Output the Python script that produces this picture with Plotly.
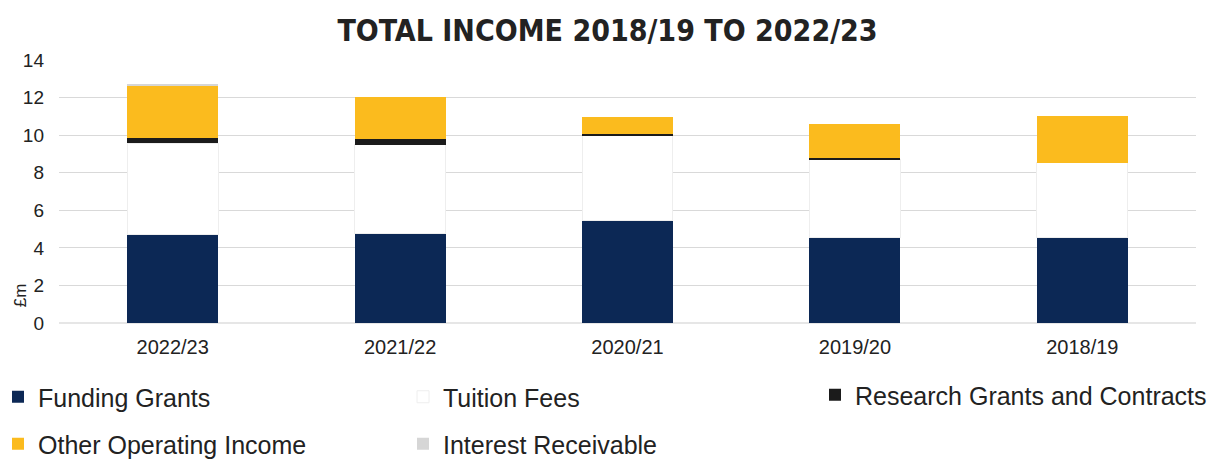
import plotly.graph_objects as go

# Income by year (£m), stacked
years = ["2022/23", "2021/22", "2020/21", "2019/20", "2018/19"]
funding_grants = [4.70, 4.76, 5.47, 4.54, 4.54]
tuition_fees = [4.86, 4.74, 4.50, 4.14, 3.98]
research_grants = [0.27, 0.27, 0.10, 0.08, 0.00]
other_operating = [2.76, 2.24, 0.88, 1.81, 2.51]
interest_receivable = [0.12, 0.00, 0.00, 0.00, 0.00]

y_ticks = [0, 2, 4, 6, 8, 10, 12, 14]

NAVY = "#0c2855"
YELLOW = "#fbbb1e"
BLACK = "#1b1b1b"
GREY = "#d6d6d6"
TEXT = "#222222"
FONT = "Liberation Sans, Arial, sans-serif"

fig = go.Figure()

fig.add_trace(go.Bar(name="Funding Grants", x=years, y=funding_grants,
                     marker=dict(color=NAVY, line=dict(width=0)), legend="legend"))
fig.add_trace(go.Bar(name="Tuition Fees", x=years, y=tuition_fees,
                     marker=dict(color="#ffffff", line=dict(color="#eeeeee", width=1)),
                     legend="legend"))
fig.add_trace(go.Bar(name="Research Grants and Contracts", x=years, y=research_grants,
                     marker=dict(color=BLACK, line=dict(width=0)), legend="legend3"))
fig.add_trace(go.Bar(name="Other Operating Income", x=years, y=other_operating,
                     marker=dict(color=YELLOW, line=dict(width=0)), legend="legend2"))
fig.add_trace(go.Bar(name="Interest Receivable", x=years, y=interest_receivable,
                     marker=dict(color=GREY, line=dict(width=0)), legend="legend2"))

legend_common = dict(
    orientation="h",
    xanchor="left",
    yanchor="middle",
    entrywidth=360,
    entrywidthmode="pixels",
    font=dict(family=FONT, size=25, color=TEXT),
    bgcolor="rgba(0,0,0,0)",
    itemclick=False,
    itemdoubleclick=False,
    traceorder="normal",
)

# pixel -> paper helpers for the legend rows
PLOT_L, PLOT_W = 59, 1137
PLOT_B, PLOT_H = 323, 263


def px_x(px):
    return (px - PLOT_L) / PLOT_W


def px_y(py):
    return (PLOT_B - py) / PLOT_H


fig.update_layout(
    width=1215,
    height=463,
    barmode="stack",
    bargap=0.6,
    paper_bgcolor="#ffffff",
    plot_bgcolor="#ffffff",
    margin=dict(l=59, r=19, t=60, b=140, autoexpand=False),
    title=dict(
        text="<b>TOTAL INCOME 2018/19 TO 2022/23</b>",
        x=0.5, xanchor="center",
        y=0.935, yanchor="middle",
        font=dict(family="Liberation Sans Narrow, Arial Narrow, DejaVu Sans Condensed, sans-serif",
                  size=30, color=TEXT),
    ),
    xaxis=dict(
        type="category",
        showgrid=False,
        showline=False,
        ticks="",
        tickfont=dict(family=FONT, size=20, color=TEXT),
        ticklabelstandoff=10,
    ),
    yaxis=dict(
        range=[0, 14],
        tickvals=y_ticks,
        showgrid=True,
        gridcolor="#d9d9d9",
        gridwidth=1,
        zeroline=True,
        zerolinecolor="#e6e6e6",
        showline=False,
        ticks="",
        tickfont=dict(family=FONT, size=19, color=TEXT),
        ticklabelstandoff=14,
    ),
    legend=dict(x=px_x(-2), y=px_y(397), **legend_common),
    legend3=dict(x=px_x(815), y=px_y(395), **legend_common),
    legend2=dict(x=px_x(-2), y=px_y(444), **legend_common),
    annotations=[
        dict(text="£m", xref="paper", yref="y", x=-0.034, y=1.5,
             showarrow=False, textangle=-90, xanchor="center", yanchor="middle",
             font=dict(family=FONT, size=17, color=TEXT)),
    ],
)

fig.write_html("out.html")
